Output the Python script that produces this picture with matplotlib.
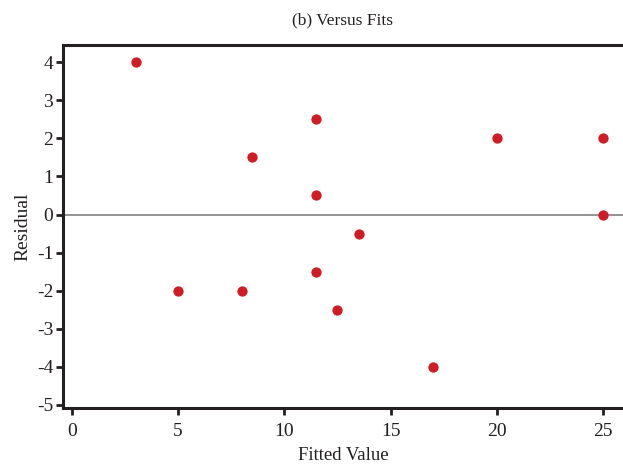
import matplotlib
matplotlib.use("Agg")
import matplotlib.pyplot as plt

# fitted values and residuals
fitted = [3, 5, 8, 8.5, 11.5, 11.5, 11.5, 12.5, 13.5, 17, 20, 25, 25]
resid = [4, -2, -2, 1.5, 2.5, 0.5, -1.5, -2.5, -0.5, -4, 2, 2, 0]
xticks = [0, 5, 10, 15, 20, 25]
yticks = [4, 3, 2, 1, 0, -1, -2, -3, -4, -5]

plt.rcParams['font.family'] = ['Liberation Serif', 'DejaVu Serif']

fig = plt.figure(figsize=(6.23, 4.65), dpi=100)
ax = fig.add_axes([63 / 623, 57 / 465, 1 - 63 / 623, 363 / 465])

ax.axhline(0, color='#808080', lw=1.2, zorder=1)
ax.scatter(fitted, resid, s=55, color='#d01c24', zorder=3, linewidths=0)

ax.set_xlim(-0.42, 25.94)
ax.set_ylim(-5.08, 4.45)
ax.set_xticks(xticks)
ax.set_yticks(yticks)
ax.set_xticklabels([str(t) for t in xticks])
ax.set_yticklabels([str(t) for t in yticks])

for side in ['left', 'bottom', 'top']:
    ax.spines[side].set_linewidth(2.2)
    ax.spines[side].set_color('#231f20')
ax.spines['right'].set_visible(False)
ax.tick_params(direction='out', length=5, width=2, color='#231f20',
               labelsize=14, pad=2, labelcolor='#231f20')
ax.tick_params(axis='x', pad=6)

ax.set_title('(b) Versus Fits', fontsize=12.5, pad=15, color='#231f20')
ax.set_xlabel('Fitted Value', fontsize=13.5, labelpad=5, color='#231f20')
ax.set_ylabel('Residual', fontsize=14, labelpad=4, color='#231f20')

fig.savefig('out.png', dpi=100)
